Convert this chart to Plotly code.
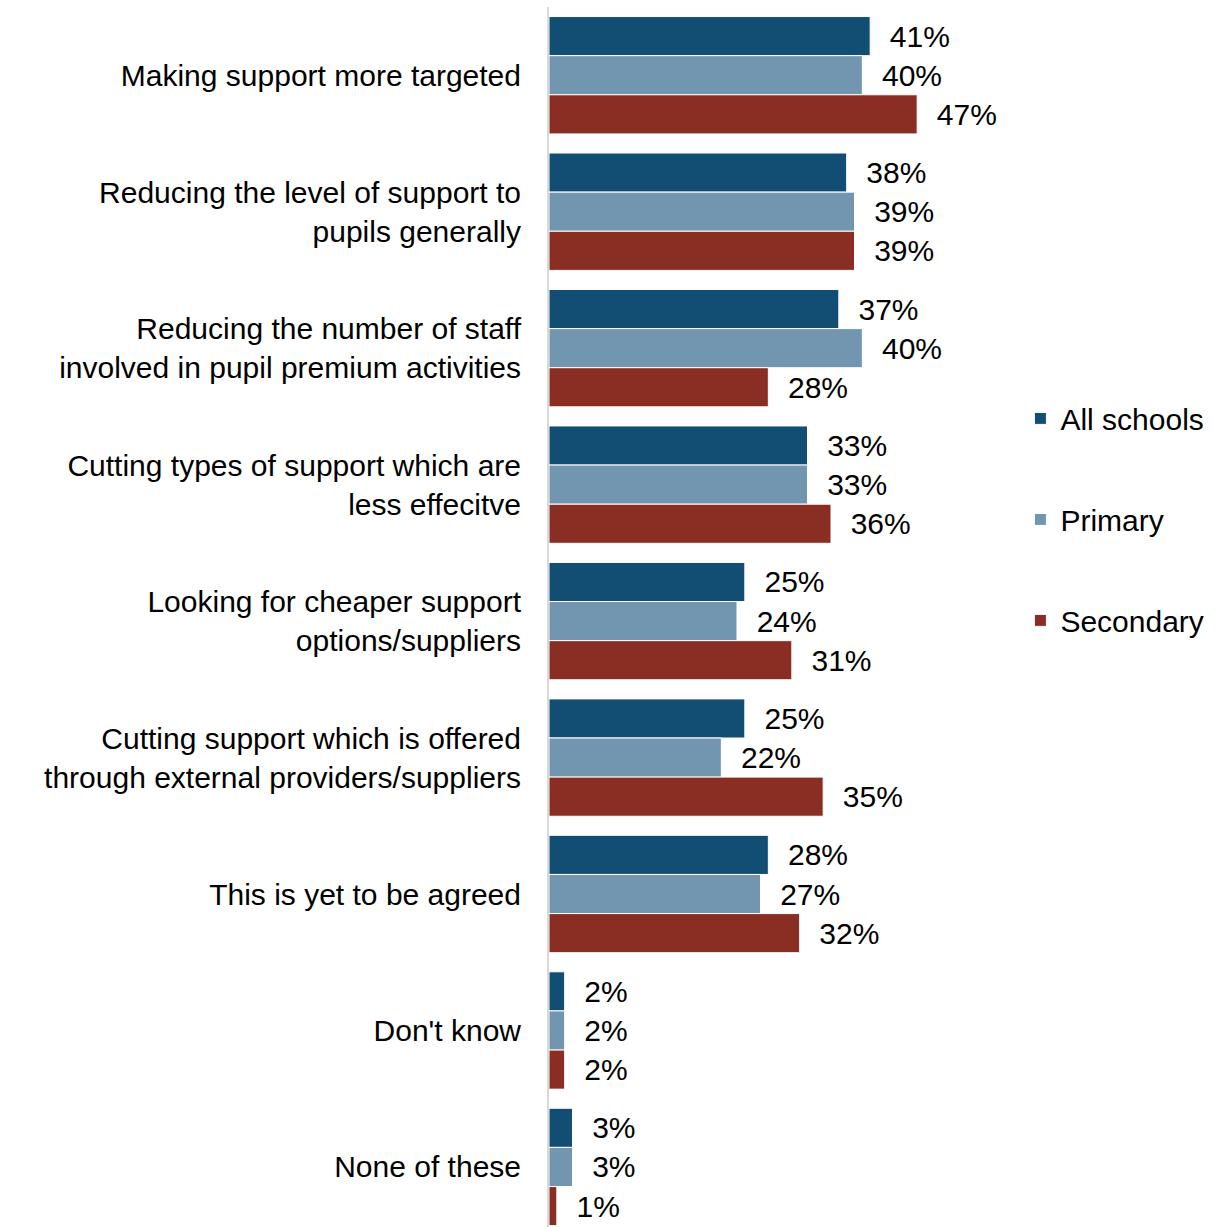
import plotly.graph_objects as go

# Survey responses: planned approaches to changes in pupil premium spending
categories = [
    "Making support more targeted",
    "Reducing the level of support to<br>pupils generally",
    "Reducing the number of staff<br>involved in pupil premium activities",
    "Cutting types of support which are<br>less effecitve",
    "Looking for cheaper support<br>options/suppliers",
    "Cutting support which is offered<br>through external providers/suppliers",
    "This is yet to be agreed",
    "Don't know",
    "None of these",
]
all_schools = [41, 38, 37, 33, 25, 25, 28, 2, 3]
primary = [40, 39, 40, 33, 24, 22, 27, 2, 3]
secondary = [47, 39, 28, 36, 31, 35, 32, 2, 1]

series = [
    ("All schools", all_schools, "#124E73"),
    ("Primary", primary, "#7296B0"),
    ("Secondary", secondary, "#8A2E23"),
]

FONT = "Liberation Sans, Arial, sans-serif"
SIZE = 30

fig = go.Figure()
for name, vals, color in series:
    fig.add_trace(go.Bar(
        y=list(range(len(categories))),
        x=vals,
        orientation="h",
        name=name,
        legendgroup=name,
        marker=dict(color=color, line=dict(color="white", width=1)),
        text=[f"  {v}%" for v in vals],
        textposition="outside",
        textfont=dict(family=FONT, size=SIZE, color="#000000"),
        cliponaxis=False,
        hoverinfo="skip",
    ))

fig.update_layout(
    width=1218,
    height=1227,
    barmode="group",
    bargap=0.14,
    bargroupgap=0.0,
    plot_bgcolor="white",
    paper_bgcolor="white",
    margin=dict(l=549, r=199, t=7, b=0),
    font=dict(family=FONT, size=SIZE, color="#000000"),
    showlegend=True,
    legend=dict(
        x=1.003,
        xanchor="left",
        y=0.58,
        yanchor="middle",
        traceorder="grouped",
        tracegroupgap=59,
        font=dict(family=FONT, size=SIZE, color="#000000"),
    ),
)

fig.update_xaxes(
    range=[0, 60],
    visible=False,
    showgrid=False,
    zeroline=False,
)
fig.update_yaxes(
    tickmode="array",
    tickvals=list(range(len(categories))),
    ticktext=categories,
    range=[8.44, -0.5],
    showgrid=False,
    zeroline=False,
    showline=True,
    linecolor="#D9D9D9",
    linewidth=2,
    ticks="outside",
    ticklen=20,
    tickcolor="rgba(0,0,0,0)",
    tickfont=dict(family=FONT, size=SIZE, color="#000000"),
)

fig.write_html("out.html")
